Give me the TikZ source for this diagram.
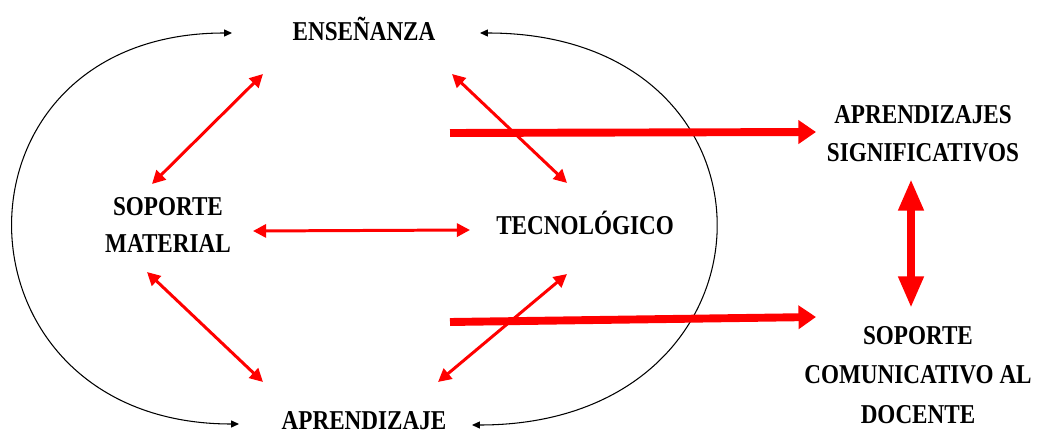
\documentclass[tikz,border=0pt]{standalone}
\usepackage{fontspec}
\setmainfont{Liberation Serif}[FakeStretch=0.85]
\usetikzlibrary{arrows.meta}

\definecolor{myred}{RGB}{255,0,0}

\begin{document}
\begin{tikzpicture}[x = .02cm, y = -.02cm,
		thinred/.style = {myred, line width = 1.7pt, {Triangle[length=7.5pt,width=7.5pt]}-{Triangle[length=7.5pt,width=7.5pt]}},
		thickred/.style = {myred, line width = 4.5pt, -{Triangle[length=10pt,width=13pt]}},
		bigred/.style = {myred, line width = 4.5pt, {Triangle[length=18pt,width=13.5pt]}-{Triangle[length=18pt,width=13.5pt]}},
		blackarc/.style = {black, line width = .6pt, {Triangle[length=4.5pt,width=4pt]}-{Triangle[length=4.5pt,width=4pt]}}]
		\tikzstyle{every node} = [font = \bfseries\fontsize{15.5}{21.5}\selectfont, align = center, inner sep = 0]
		
		\useasboundingbox (0,0) rectangle (1043,435);
		
		\node (ens) at (364,29) {ENSEÑANZA};
		\node (sop) at (168,225) {SOPORTE\\MATERIAL};
		\node (tec) at (585,223) {TECNOLÓGICO};
		\node (apr) at (364,421) {APRENDIZAJE};
		\node (sig) at (923,134) {APRENDIZAJES\\SIGNIFICATIVOS};
		\node[font = \bfseries\fontsize{15.5}{22.5}\selectfont] (com) at (918,375) {SOPORTE\\COMUNICATIVO AL\\DOCENTE};
		
		\coordinate (upin) at (450,133);
		\coordinate (lowin) at (450,322);
		
		%the two halves of the cycle
		\draw [blackarc] ([shift={(-132,4)}]ens.center) .. controls +(-296,0) and +(-296,0) .. ([shift={(-125,3)}]apr.center);
		\draw [blackarc] ([shift={(116,4)}]ens.center) .. controls +(319,0) and +(319,0) .. ([shift={(108,4)}]apr.center);
		
		\draw [thinred] ([shift={(-101,45)}]ens.center) -- ([shift={(-16,-41)}]sop.center); %ens to sop
		\draw [thinred] ([shift={(88,45)}]ens.center) -- ([shift={(-18,-40)}]tec.center); %ens to tec
		\draw [thinred] ([shift={(85,6)}]sop.center) -- ([shift={(-115,7)}]tec.center); %sop to tec
		\draw [thinred] ([shift={(-21,47)}]sop.center) -- ([shift={(-101,-39)}]apr.center); %sop to apr
		\draw [thinred] ([shift={(-18,51)}]tec.center) -- ([shift={(74,-39)}]apr.center); %tec to apr
		
		\draw [thickred] (upin) -- ([shift={(-107,-2)}]sig.center);
		\draw [thickred] (lowin) -- ([shift={(-102,-58)}]com.center);
		\draw [bigred] ([shift={(-12,45)}]sig.center) -- ([shift={(-7,-67)}]com.center); %sig to com
	\end{tikzpicture}
\end{document}
